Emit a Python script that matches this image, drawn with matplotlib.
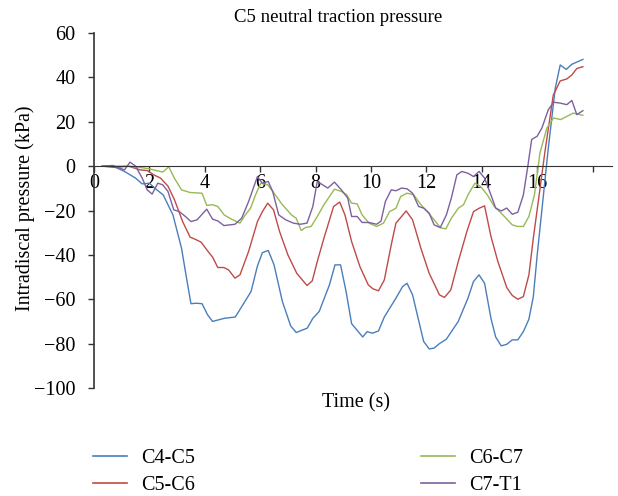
import numpy as np
import matplotlib
matplotlib.use("Agg")
import matplotlib.pyplot as plt
from matplotlib.lines import Line2D

# time (s) and intradiscal pressure (kPa)
t_c45 = [0.3, 0.68, 1.1, 1.5, 1.74, 2.0, 2.2, 2.5, 2.85, 3.16, 3.3, 3.5, 3.7, 3.9, 4.1, 4.28,
         4.7, 5.1, 5.3, 5.67, 5.9, 6.08, 6.29, 6.5, 6.8, 7.1, 7.3, 7.7, 7.9, 8.13, 8.5, 8.7,
         8.9, 9.1, 9.3, 9.7, 9.86, 10.05, 10.27, 10.48, 10.9, 11.14, 11.3, 11.5, 11.9, 12.1,
         12.28, 12.47, 12.72, 13.15, 13.5, 13.7, 13.9, 14.1, 14.33, 14.5, 14.7, 14.9, 15.1,
         15.3, 15.5, 15.7, 15.86, 16.0, 16.2, 16.4, 16.65, 16.83, 17.05, 17.25, 17.65]
p_c45 = [0, 0, -2.4, -5.4, -8, -7.7, -10, -13, -22, -37, -47.5, -62, -61.8, -62, -67, -70,
         -68.6, -68, -64, -56.5, -45, -39, -38, -44.5, -61, -72, -75, -73, -68.6, -65.5, -53.5,
         -44.5, -44.5, -56.5, -71, -77, -74.6, -75.3, -74.3, -68, -59.5, -54.3, -52.8, -58, -79,
         -82.4, -82, -80, -78, -70, -59.5, -52, -49, -52.8, -68.6, -77, -81, -80.3, -78.3,
         -78.3, -74.6, -69, -58.8, -40, -16, 8, 35, 45.6, 43.6, 45.9, 48.1]

t_c56 = [0.3, 0.75, 1.24, 1.67, 1.92, 2.17, 2.4, 2.67, 2.9, 3.2, 3.47, 3.66, 3.87, 4.12, 4.28,
         4.47, 4.69, 4.86, 5.09, 5.27, 5.58, 5.9, 6.08, 6.27, 6.48, 6.7, 7.0, 7.32, 7.69, 7.88,
         8.06, 8.3, 8.65, 8.87, 9.06, 9.3, 9.6, 9.9, 10.07, 10.27, 10.48, 10.73, 10.9, 11.27,
         11.5, 11.8, 12.1, 12.47, 12.65, 12.88, 13.15, 13.46, 13.7, 13.9, 14.1, 14.33, 14.58,
         14.9, 15.1, 15.3, 15.5, 15.7, 15.86, 16.07, 16.28, 16.58, 16.83, 17.07, 17.25, 17.43,
         17.65]
p_c56 = [0, -0.6, 0, -1.7, -2, -4, -5.4, -9, -15, -25, -32, -33, -34.3, -38.5, -41, -45.7,
         -45.7, -46.8, -50.5, -49, -38.5, -25, -20.5, -16.7, -19.7, -29.5, -40, -48.3, -53.8,
         -51.7, -43, -32.5, -18.2, -16.2, -22, -34, -45.3, -53.5, -55.3, -56.2, -51.3, -35.5,
         -25.7, -20.2, -24.2, -37, -48.3, -58, -59.2, -55.8, -43, -29.5, -20.5, -19, -17.9,
         -31.7, -43, -54.7, -58.3, -60, -58.8, -49, -32.5, -13, 6.6, 32, 38.4, 39.3, 41.1, 44,
         44.8]

t_c67 = [0.3, 0.68, 1.24, 1.67, 2.0, 2.48, 2.7, 2.9, 3.16, 3.47, 3.9, 4.07, 4.28, 4.47, 4.7,
         4.96, 5.27, 5.46, 5.65, 5.83, 6.02, 6.27, 6.5, 6.8, 7.13, 7.3, 7.48, 7.63, 7.84, 8.06,
         8.3, 8.68, 8.93, 9.12, 9.3, 9.5, 9.68, 9.93, 10.2, 10.45, 10.67, 10.9, 11.07, 11.3,
         11.54, 11.8, 12.03, 12.28, 12.5, 12.7, 12.9, 13.15, 13.34, 13.5, 13.75, 13.96, 14.2,
         14.45, 14.7, 14.93, 15.1, 15.3, 15.5, 15.7, 15.9, 16.1, 16.35, 16.59, 16.85, 17.07,
         17.3, 17.65]
p_c67 = [0, 0, 0, -0.6, -1.2, -2.7, -0.3, -5.4, -10.7, -11.9, -12.2, -17.7, -17.4, -18.2, -22,
         -23.9, -25.7, -22, -19, -13, -7.7, -8.4, -12.2, -17.4, -22, -23.5, -29, -27.7, -27.2,
         -22.7, -17.4, -10.4, -11.4, -12.9, -16.7, -17, -22, -25.7, -27.2, -25.7, -20.5, -19,
         -13.7, -12.2, -12.9, -17.4, -20.5, -24.2, -27.7, -28.3, -23.5, -19, -17.4, -13, -7.7,
         -9.2, -13, -18.2, -21.2, -24.2, -26.5, -27.2, -27.2, -22.7, -13, 6, 17.2, 21.7, 21,
         22.4, 23.9, 22.9]

t_c7t1 = [0.3, 0.68, 1.1, 1.3, 1.5, 1.74, 1.92, 2.1, 2.3, 2.48, 2.67, 2.88, 3.08, 3.3, 3.5,
          3.72, 4.07, 4.28, 4.47, 4.69, 5.09, 5.33, 5.58, 5.9, 6.08, 6.29, 6.45, 6.67, 6.92,
          7.2, 7.44, 7.69, 7.9, 8.06, 8.25, 8.44, 8.68, 8.93, 9.16, 9.3, 9.5, 9.68, 9.93, 10.2,
          10.36, 10.52, 10.73, 10.9, 11.1, 11.3, 11.5, 11.72, 11.9, 12.1, 12.28, 12.5, 12.72,
          12.9, 13.1, 13.28, 13.5, 13.7, 13.9, 14.1, 14.33, 14.5, 14.7, 14.9, 15.1, 15.3, 15.5,
          15.65, 15.8, 16.0, 16.17, 16.4, 16.59, 16.83, 17.07, 17.25, 17.43, 17.65]
p_c7t1 = [0, 0.3, -1.7, 1.8, 0, -5.4, -10.7, -12.6, -7.7, -8.4, -11.4, -19.7, -20.5, -22.7,
          -25, -24.2, -19.4, -23.9, -24.7, -26.8, -26.2, -23.5, -16, -4.7, -7.7, -6.9, -11.4,
          -22, -24.2, -25.7, -26.2, -25.7, -18.2, -6.9, -8.4, -9.9, -7.2, -10.7, -14.4, -22.7,
          -22.7, -25.4, -25.4, -26.2, -24.8, -15.9, -10.7, -11.1, -9.9, -10.2, -12.2, -18.2,
          -18.9, -21.2, -26.5, -27.7, -22, -14.4, -3.9, -2.4, -3.2, -4.7, -2.4, -5.4, -13,
          -18.9, -20.2, -18.9, -21.7, -20.8, -13, -1, 12, 13.5, 17.2, 25.4, 28.8, 28.4, 27.7,
          29.6, 23.2, 25]

labels = ["C4-C5", "C5-C6", "C6-C7", "C7-T1"]
colors = ["#4a7ebb", "#be4b48", "#98b954", "#7d60a0"]

plt.rcParams['font.family'] = ['Liberation Serif', 'DejaVu Serif']
plt.rcParams['font.size'] = 14.5

W, H = 618, 496
fig = plt.figure(figsize=(W / 100, H / 100), dpi=100)
ax = fig.add_axes([94 / W, 1 - 388 / H, (612 - 94) / W, (388 - 33) / H])

series = [(t_c45, p_c45), (t_c56, p_c56), (t_c67, p_c67), (t_c7t1, p_c7t1)]
for (tt, pp), c in zip(series, colors):
    ax.plot(tt, pp, color=c, lw=1.0)

ax.set_xlim(0, 18.7)
ax.set_ylim(-100, 60)
ax.set_yticks(range(-100, 61, 20))
ax.set_yticklabels(["\u2212100", "\u221280", "\u221260", "\u221240", "\u221220", "0", "20", "40", "60"])
ax.set_xticks(range(0, 19, 2))
ax.set_xticklabels([str(v) for v in range(0, 17, 2)] + [""])

ax.spines['top'].set_visible(False)
ax.spines['right'].set_visible(False)
ax.spines['bottom'].set_position(('data', 0))
ax.spines['left'].set_color('#333333')
ax.spines['bottom'].set_color('#333333')
ax.spines['left'].set_linewidth(1.2)
ax.tick_params(axis='both', direction='out', length=4.5, color='#333333', width=1)
ax.tick_params(axis='x', pad=1)
ax.tick_params(axis='y', pad=9)

fig.text(338 / W, 1 - 17 / H, "C5 neutral traction pressure", ha='center', va='center', fontsize=13.5)
fig.text(25 / W, 1 - 208 / H, "Intradiscal pressure (kPa)", rotation=90, ha='center', va='center')
fig.text(356 / W, 1 - 403 / H, "Time (s)", ha='center', va='center')

handles = [Line2D([], [], color=c, lw=1.2) for c in colors]
leg_kw = dict(frameon=False, handlelength=1.7, handletextpad=0.7, labelspacing=0.38,
              borderaxespad=0, borderpad=0.1)
fig.legend(handles[:2], labels[:2], loc='upper left', bbox_to_anchor=(91 / W, 1 - 447 / H), **leg_kw)
fig.legend(handles[2:], labels[2:], loc='upper left', bbox_to_anchor=(419 / W, 1 - 447 / H), **leg_kw)

fig.savefig("out.png", dpi=100)
